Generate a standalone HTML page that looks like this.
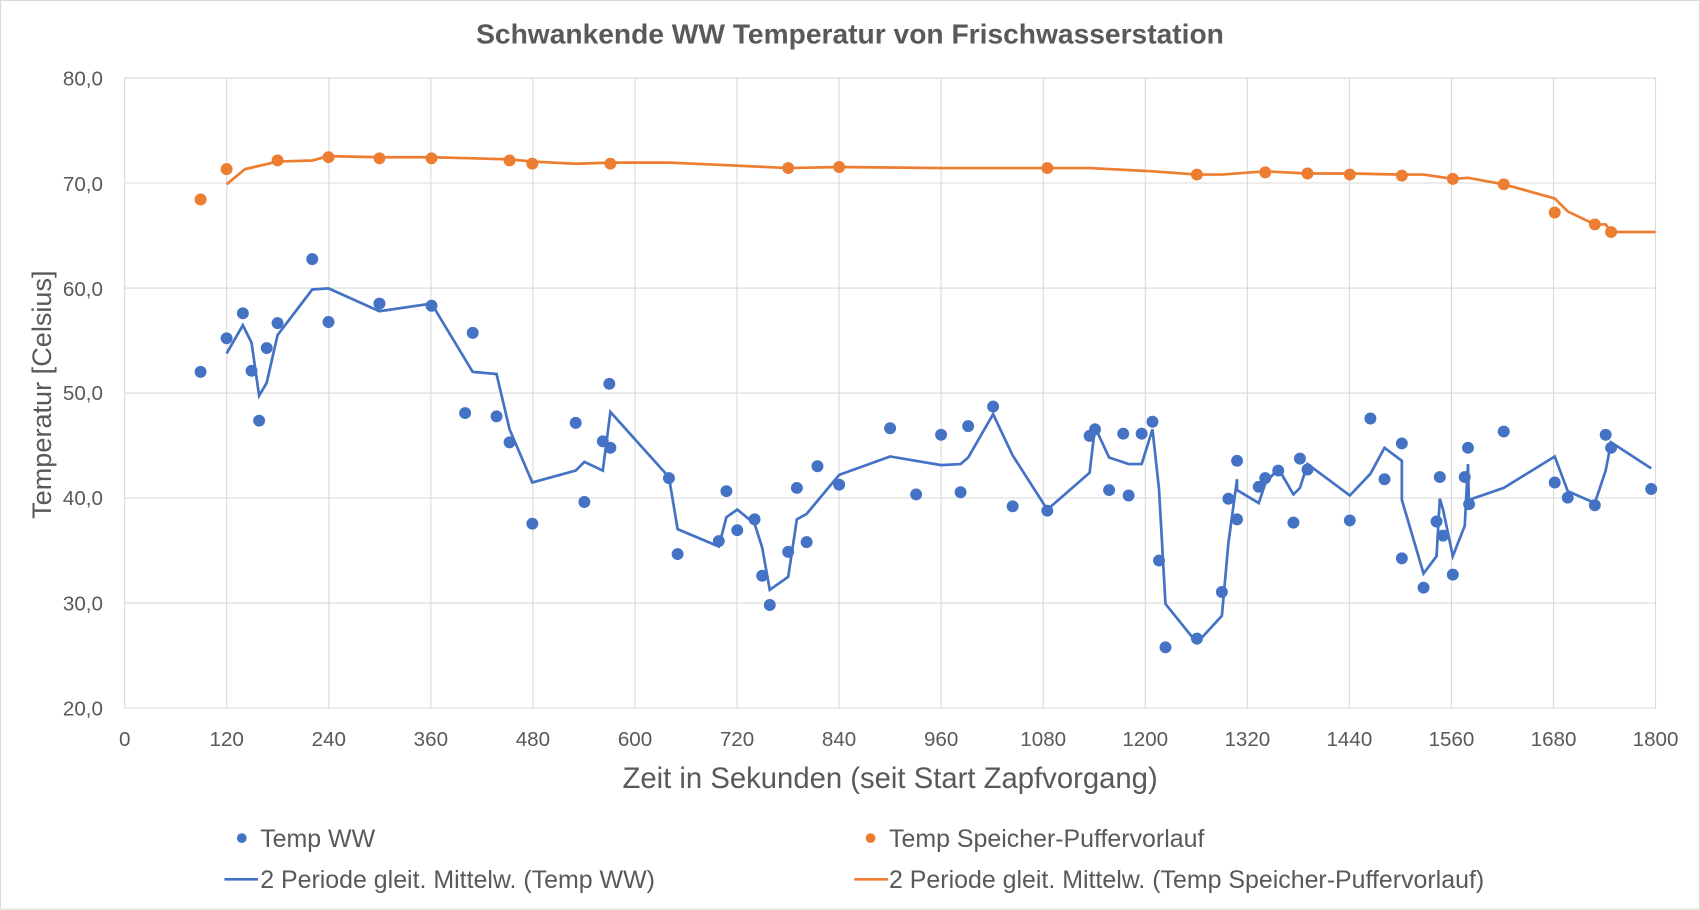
<!DOCTYPE html>
<html><head><meta charset="utf-8"><style>html,body{margin:0;padding:0;background:#fff}svg{display:block}</style></head>
<body>
<svg width="1700" height="910" viewBox="0 0 1568 839.3" preserveAspectRatio="none" xmlns="http://www.w3.org/2000/svg" font-family="Liberation Sans, sans-serif">
<rect x="0.5" y="0.5" width="1567" height="838" fill="#fff" stroke="#d9d9d9"/>
<g stroke="#d9d9d9" stroke-width="1">
<line x1="115" y1="72" x2="1527" y2="72"/><line x1="115" y1="168.8" x2="1527" y2="168.8"/><line x1="115" y1="265.7" x2="1527" y2="265.7"/><line x1="115" y1="362.5" x2="1527" y2="362.5"/><line x1="115" y1="459.3" x2="1527" y2="459.3"/><line x1="115" y1="556.2" x2="1527" y2="556.2"/><line x1="115" y1="653" x2="1527" y2="653"/>
<line x1="115" y1="72" x2="115" y2="653"/><line x1="209.1" y1="72" x2="209.1" y2="653"/><line x1="303.3" y1="72" x2="303.3" y2="653"/><line x1="397.4" y1="72" x2="397.4" y2="653"/><line x1="491.5" y1="72" x2="491.5" y2="653"/><line x1="585.7" y1="72" x2="585.7" y2="653"/><line x1="679.8" y1="72" x2="679.8" y2="653"/><line x1="773.9" y1="72" x2="773.9" y2="653"/><line x1="868.1" y1="72" x2="868.1" y2="653"/><line x1="962.2" y1="72" x2="962.2" y2="653"/><line x1="1056.3" y1="72" x2="1056.3" y2="653"/><line x1="1150.5" y1="72" x2="1150.5" y2="653"/><line x1="1244.6" y1="72" x2="1244.6" y2="653"/><line x1="1338.7" y1="72" x2="1338.7" y2="653"/><line x1="1432.9" y1="72" x2="1432.9" y2="653"/><line x1="1527" y1="72" x2="1527" y2="653"/>
</g>
<text x="784" y="40" text-anchor="middle" font-size="26" font-weight="bold" fill="#595959">Schwankende WW Temperatur von Frischwasserstation</text>
<g font-size="19" fill="#595959" text-anchor="end">
<text x="95" y="79">80,0</text><text x="95" y="176">70,0</text><text x="95" y="273">60,0</text><text x="95" y="369">50,0</text><text x="95" y="466">40,0</text><text x="95" y="563">30,0</text><text x="95" y="660">20,0</text>
</g>
<g font-size="19" fill="#595959" text-anchor="middle">
<text x="115" y="688">0</text><text x="209.1" y="688">120</text><text x="303.3" y="688">240</text><text x="397.4" y="688">360</text><text x="491.5" y="688">480</text><text x="585.7" y="688">600</text><text x="679.8" y="688">720</text><text x="773.9" y="688">840</text><text x="868.1" y="688">960</text><text x="962.2" y="688">1080</text><text x="1056.3" y="688">1200</text><text x="1150.5" y="688">1320</text><text x="1244.6" y="688">1440</text><text x="1338.7" y="688">1560</text><text x="1432.9" y="688">1680</text><text x="1527" y="688">1800</text>
</g>
<text x="821" y="727" text-anchor="middle" font-size="27" fill="#595959">Zeit in Sekunden (seit Start Zapfvorgang)</text>
<text transform="translate(47,364) rotate(-90)" text-anchor="middle" font-size="25" fill="#595959">Temperatur [Celsius]</text>
<polyline fill="none" stroke="#ed7d31" stroke-width="2.5" points="209,170 226,156 256,149 288,148 303,144 350,145 398,145 436,146 470,147 491,149 531,151 563,150 617,150 663,152 727,155 774,154 868,155 966,155 1005,155 1063,158 1104,161 1127,161 1167,158 1206,160 1245,160 1293,161 1313,161 1340,165 1354,164 1387,170 1434,183 1446,195 1471,207 1481,207 1486,214 1527,214"/>
<g fill="#ed7d31">
<circle cx="185" cy="184" r="5.5"/><circle cx="209" cy="156" r="5.5"/><circle cx="256" cy="148" r="5.5"/><circle cx="303" cy="145" r="5.5"/><circle cx="350" cy="146" r="5.5"/><circle cx="398" cy="146" r="5.5"/><circle cx="470" cy="148" r="5.5"/><circle cx="491" cy="151" r="5.5"/><circle cx="563" cy="151" r="5.5"/><circle cx="727" cy="155" r="5.5"/><circle cx="774" cy="154" r="5.5"/><circle cx="966" cy="155" r="5.5"/><circle cx="1104" cy="161" r="5.5"/><circle cx="1167" cy="159" r="5.5"/><circle cx="1206" cy="160" r="5.5"/><circle cx="1245" cy="161" r="5.5"/><circle cx="1293" cy="162" r="5.5"/><circle cx="1340" cy="165" r="5.5"/><circle cx="1387" cy="170" r="5.5"/><circle cx="1434" cy="196" r="5.5"/><circle cx="1471" cy="207" r="5.5"/><circle cx="1486" cy="214" r="5.5"/>
</g>
<polyline fill="none" stroke="#4472c4" stroke-width="2.5" points="209,326 224,300 232,316 239,365 246,353 256,309 288,267 303,266 350,287 398,280 436,343 458,345 470,396 491,445 531,434 539,426 556,434 563,380 617,440 625,488 663,504 670,477 680,470 696,483 703,505 710,544 727,532 735,479 744,474 754,462 774,438 821,421 868,429 886,428 893,422 916,382 934,420 966,470 1005,436 1010,394 1023,422 1041,428 1053,428 1063,396 1069,451 1075,557 1104,593 1127,568 1133,501 1141,442 1141,452 1161,464 1167,446 1179,432 1193,456 1199,450 1206,428 1245,457 1264,437 1277,413 1293,425 1293,461 1313,529 1325,513 1328,460 1331,470 1340,513 1351,485 1354,428 1355,470 1355,461 1387,450 1434,421 1446,453 1471,464 1481,434 1486,408 1523,432"/>
<g fill="#4472c4">
<circle cx="185" cy="343" r="5.5"/><circle cx="209" cy="312" r="5.5"/><circle cx="224" cy="289" r="5.5"/><circle cx="232" cy="342" r="5.5"/><circle cx="239" cy="388" r="5.5"/><circle cx="246" cy="321" r="5.5"/><circle cx="256" cy="298" r="5.5"/><circle cx="288" cy="239" r="5.5"/><circle cx="303" cy="297" r="5.5"/><circle cx="350" cy="280" r="5.5"/><circle cx="398" cy="282" r="5.5"/><circle cx="436" cy="307" r="5.5"/><circle cx="429" cy="381" r="5.5"/><circle cx="458" cy="384" r="5.5"/><circle cx="470" cy="408" r="5.5"/><circle cx="491" cy="483" r="5.5"/><circle cx="531" cy="390" r="5.5"/><circle cx="539" cy="463" r="5.5"/><circle cx="556" cy="407" r="5.5"/><circle cx="563" cy="413" r="5.5"/><circle cx="562" cy="354" r="5.5"/><circle cx="617" cy="441" r="5.5"/><circle cx="625" cy="511" r="5.5"/><circle cx="663" cy="499" r="5.5"/><circle cx="670" cy="453" r="5.5"/><circle cx="680" cy="489" r="5.5"/><circle cx="696" cy="479" r="5.5"/><circle cx="703" cy="531" r="5.5"/><circle cx="710" cy="558" r="5.5"/><circle cx="727" cy="509" r="5.5"/><circle cx="735" cy="450" r="5.5"/><circle cx="744" cy="500" r="5.5"/><circle cx="754" cy="430" r="5.5"/><circle cx="774" cy="447" r="5.5"/><circle cx="821" cy="395" r="5.5"/><circle cx="845" cy="456" r="5.5"/><circle cx="868" cy="401" r="5.5"/><circle cx="886" cy="454" r="5.5"/><circle cx="893" cy="393" r="5.5"/><circle cx="916" cy="375" r="5.5"/><circle cx="934" cy="467" r="5.5"/><circle cx="966" cy="471" r="5.5"/><circle cx="1005" cy="402" r="5.5"/><circle cx="1010" cy="396" r="5.5"/><circle cx="1023" cy="452" r="5.5"/><circle cx="1036" cy="400" r="5.5"/><circle cx="1041" cy="457" r="5.5"/><circle cx="1053" cy="400" r="5.5"/><circle cx="1063" cy="389" r="5.5"/><circle cx="1069" cy="517" r="5.5"/><circle cx="1075" cy="597" r="5.5"/><circle cx="1104" cy="589" r="5.5"/><circle cx="1127" cy="546" r="5.5"/><circle cx="1133" cy="460" r="5.5"/><circle cx="1141" cy="425" r="5.5"/><circle cx="1141" cy="479" r="5.5"/><circle cx="1161" cy="449" r="5.5"/><circle cx="1167" cy="441" r="5.5"/><circle cx="1179" cy="434" r="5.5"/><circle cx="1193" cy="482" r="5.5"/><circle cx="1199" cy="423" r="5.5"/><circle cx="1206" cy="433" r="5.5"/><circle cx="1245" cy="480" r="5.5"/><circle cx="1264" cy="386" r="5.5"/><circle cx="1277" cy="442" r="5.5"/><circle cx="1293" cy="409" r="5.5"/><circle cx="1293" cy="515" r="5.5"/><circle cx="1313" cy="542" r="5.5"/><circle cx="1325" cy="481" r="5.5"/><circle cx="1328" cy="440" r="5.5"/><circle cx="1331" cy="494" r="5.5"/><circle cx="1340" cy="530" r="5.5"/><circle cx="1351" cy="440" r="5.5"/><circle cx="1354" cy="413" r="5.5"/><circle cx="1355" cy="465" r="5.5"/><circle cx="1387" cy="398" r="5.5"/><circle cx="1434" cy="445" r="5.5"/><circle cx="1446" cy="459" r="5.5"/><circle cx="1471" cy="466" r="5.5"/><circle cx="1481" cy="401" r="5.5"/><circle cx="1486" cy="413" r="5.5"/><circle cx="1523" cy="451" r="5.5"/>
</g>
<g font-size="23" fill="#595959">
<circle cx="223" cy="773" r="4.5" fill="#4472c4"/><text x="240" y="781">Temp WW</text>
<circle cx="803" cy="773" r="4.5" fill="#ed7d31"/><text x="820" y="781">Temp Speicher-Puffervorlauf</text>
<line x1="207" y1="811" x2="238" y2="811" stroke="#4472c4" stroke-width="2.5"/><text x="240" y="819">2 Periode gleit. Mittelw. (Temp WW)</text>
<line x1="788" y1="811" x2="819" y2="811" stroke="#ed7d31" stroke-width="2.5"/><text x="820" y="819">2 Periode gleit. Mittelw. (Temp Speicher-Puffervorlauf)</text>
</g>
</svg>
</body></html>
